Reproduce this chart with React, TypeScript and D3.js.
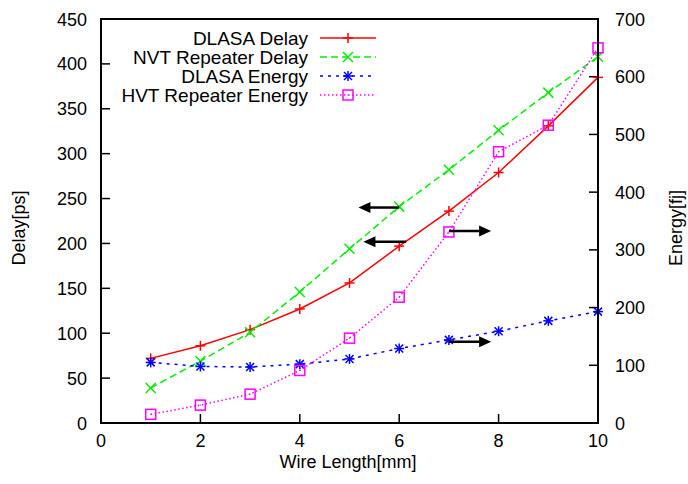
import React from "react";
import * as d3 from "d3";

const xValues = [1, 2, 3, 4, 5, 6, 7, 8, 9, 10];
const dlasaDelay = [72, 86, 104, 127, 156, 197, 236, 279, 331, 385];
const nvtDelay = [39, 69, 101, 146, 194, 241, 282, 326, 368, 408];
const dlasaEnergy = [105, 98, 97, 102, 111, 129, 144, 159, 177, 193];
const hvtEnergy = [15, 31, 50, 91, 147, 218, 331, 470, 516, 650];

const xTicks = [0, 2, 4, 6, 8, 10];
const yTicks = [0, 50, 100, 150, 200, 250, 300, 350, 400, 450];
const y2Ticks = [0, 100, 200, 300, 400, 500, 600, 700];

// arrows in (x, delay) coordinates
const arrows = [
  { x1: 6.0, x2: 5.18, y: 240 },
  { x1: 6.14, x2: 5.28, y: 202 },
  { x1: 7.0, x2: 7.85, y: 214 },
  { x1: 7.0, x2: 7.85, y: 90.5 },
];

const series = [
  { name: "DLASA Delay", values: dlasaDelay, axis: "y1", color: "#ff0000", dash: "", marker: "plus" },
  { name: "NVT Repeater Delay", values: nvtDelay, axis: "y1", color: "#00ee00", dash: "7,4", marker: "cross" },
  { name: "DLASA Energy", values: dlasaEnergy, axis: "y2", color: "#0000ff", dash: "3,5", marker: "star" },
  { name: "HVT Repeater Energy", values: hvtEnergy, axis: "y2", color: "#ff00ff", dash: "1.5,2.5", marker: "square" },
];

const W = 688, H = 484;
const L = 101, R = 598, T = 19, B = 423;
const FONT = "'Liberation Sans', Arial, Helvetica, sans-serif";

function Marker({ type, x, y, color }: { type: string; x: number; y: number; color: string }) {
  const s = 5;
  const sw = 1.5;
  if (type === "plus") {
    return (
      <g stroke={color} strokeWidth={sw}>
        <line x1={x - s} y1={y} x2={x + s} y2={y} />
        <line x1={x} y1={y - s} x2={x} y2={y + s} />
      </g>
    );
  }
  if (type === "cross") {
    return (
      <g stroke={color} strokeWidth={sw}>
        <line x1={x - s} y1={y - s} x2={x + s} y2={y + s} />
        <line x1={x - s} y1={y + s} x2={x + s} y2={y - s} />
      </g>
    );
  }
  if (type === "star") {
    return (
      <g stroke={color} strokeWidth={sw}>
        <line x1={x - s} y1={y} x2={x + s} y2={y} />
        <line x1={x} y1={y - s} x2={x} y2={y + s} />
        <line x1={x - s * 0.8} y1={y - s * 0.8} x2={x + s * 0.8} y2={y + s * 0.8} />
        <line x1={x - s * 0.8} y1={y + s * 0.8} x2={x + s * 0.8} y2={y - s * 0.8} />
      </g>
    );
  }
  return (
    <g stroke={color} strokeWidth={sw} fill="none">
      <rect x={x - s} y={y - s} width={2 * s} height={2 * s} />
      <rect x={x - 0.5} y={y - 0.5} width={1} height={1} fill={color} stroke="none" />
    </g>
  );
}

export default function App() {
  const x = d3.scaleLinear().domain([0, 10]).range([L, R]);
  const y1 = d3.scaleLinear().domain([0, 450]).range([B, T]);
  const y2 = d3.scaleLinear().domain([0, 700]).range([B, T]);

  const legendY = [38, 57, 76, 95];

  return (
    <svg width={W} height={H} style={{ position: "absolute", left: 0, top: 0, background: "#fff" }} fontFamily={FONT}>
      <rect x={0} y={0} width={W} height={H} fill="#fff" />
      {/* ticks */}
      <g stroke="#000" strokeWidth={1.5}>
        {xTicks.map((t) => (
          <line key={"xt" + t} x1={x(t)} x2={x(t)} y1={B} y2={B - 9} />
        ))}
        {yTicks.map((t) => (
          <line key={"yt" + t} x1={L} x2={L + 9} y1={y1(t)} y2={y1(t)} />
        ))}
        {y2Ticks.map((t) => (
          <line key={"y2t" + t} x1={R} x2={R - 9} y1={y2(t)} y2={y2(t)} />
        ))}
      </g>
      {/* tick labels */}
      <g fontSize={18} fill="#000">
        {xTicks.map((t) => (
          <text key={"xl" + t} x={x(t)} y={447} textAnchor="middle">{t}</text>
        ))}
        {yTicks.map((t) => (
          <text key={"yl" + t} x={87} y={y1(t) + 6.5} textAnchor="end">{t}</text>
        ))}
        {y2Ticks.map((t) => (
          <text key={"y2l" + t} x={615} y={y2(t) + 6.5} textAnchor="start">{t}</text>
        ))}
      </g>
      {/* axis titles */}
      <text x={348} y={468} fontSize={18} textAnchor="middle">Wire Length[mm]</text>
      <text transform={`translate(25,228) rotate(-90)`} fontSize={18} textAnchor="middle">Delay[ps]</text>
      <text transform={`translate(682,228) rotate(-90)`} fontSize={18} textAnchor="middle">Energy[fj]</text>

      {/* series */}
      {series.map((s) => {
        const ys = s.axis === "y1" ? y1 : y2;
        const line = d3
          .line<number>()
          .x((_, i) => x(xValues[i]))
          .y((v) => ys(v));
        return (
          <g key={s.name}>
            <path d={line(s.values) || ""} fill="none" stroke={s.color} strokeWidth={1.5} strokeDasharray={s.dash || undefined} />
            {s.values.map((v, i) => (
              <Marker key={i} type={s.marker} x={x(xValues[i])} y={ys(v)} color={s.color} />
            ))}
          </g>
        );
      })}

      {/* arrows */}
      {arrows.map((a, i) => {
        const xa = x(a.x1), xb = x(a.x2), yy = y1(a.y);
        const dir = xb > xa ? 1 : -1;
        const hl = 12, hw = 5.5;
        return (
          <g key={"ar" + i}>
            <line x1={xa} y1={yy} x2={xb - dir * hl * 0.8} y2={yy} stroke="#000" strokeWidth={2.5} />
            <polygon points={`${xb},${yy} ${xb - dir * hl},${yy - hw} ${xb - dir * hl},${yy + hw}`} fill="#000" />
          </g>
        );
      })}

      {/* legend */}
      {series.map((s, i) => (
        <g key={"lg" + i}>
          <text x={308} y={legendY[i] + 7} fontSize={19} textAnchor="end">{s.name}</text>
          <line x1={320} x2={376} y1={legendY[i]} y2={legendY[i]} stroke={s.color} strokeWidth={1.5} strokeDasharray={s.dash || undefined} />
          <Marker type={s.marker} x={348} y={legendY[i]} color={s.color} />
        </g>
      ))}

      {/* border */}
      <rect x={L} y={T} width={R - L} height={B - T} fill="none" stroke="#000" strokeWidth={2} />
    </svg>
  );
}
